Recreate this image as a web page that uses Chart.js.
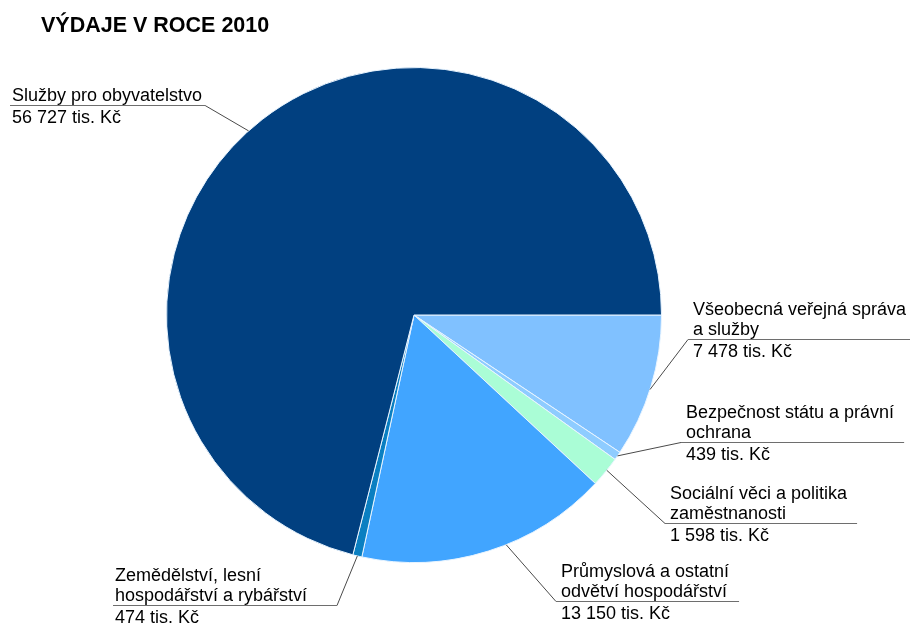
<!DOCTYPE html>
<html lang="cs">
<head>
<meta charset="utf-8">
<title>Výdaje v roce 2010</title>
<script src="https://cdn.jsdelivr.net/npm/chart.js@4.4.1/dist/chart.umd.min.js"></script>
<style>
  html, body { margin: 0; padding: 0; background: #ffffff; }
  #wrap { position: relative; width: 910px; height: 623px; }
  canvas { display: block; }
</style>
</head>
<body>
<div id="wrap"><canvas id="chart" width="910" height="623"></canvas></div>
<script>
// Expenditure groups, clockwise from 3 o'clock (values in thousands CZK)
const categories = [
  'Všeobecná veřejná správa\na služby',
  'Bezpečnost státu a právní\nochrana',
  'Sociální věci a politika\nzaměstnanosti',
  'Průmyslová a ostatní\nodvětví hospodářství',
  'Zemědělství, lesní\nhospodářství a rybářství',
  'Služby pro obyvatelstvo'
];
const values = [7478, 439, 1598, 13150, 474, 56727];
const unit = 'tis. Kč';
const title = 'VÝDAJE V ROCE 2010';

// Slice colours
const colors = ['#80C1FF', '#8ECCFF', '#AAFDD6', '#41A5FF', '#0A7FC1', '#014080'];

// Label placement: text left x, first baseline, side of the elbow,
// anchor fraction along the arc, optional label box width
const labelLayout = [
  { x: 693, y: 315, side: 'right', at: 0.52 },
  { x: 686, y: 418, side: 'right', at: 0.5 },
  { x: 670, y: 499, side: 'right', at: 0.44 },
  { x: 561, y: 577, side: 'right', at: 0.426 },
  { x: 115, y: 581, side: 'left',  at: 0.5, box: 224 },
  { x: 12,  y: 101, side: 'left',  at: 0.484 }
];

const FONT = '18px "Liberation Sans", Arial, sans-serif';
const LINE = 20;

function fmt(v) {
  return String(v).replace(/\B(?=(\d{3})+(?!\d))/g, ' ') + ' ' + unit;
}

const calloutPlugin = {
  id: 'callouts',
  afterDraw(chart) {
    const ctx = chart.ctx;
    const arcs = chart.getDatasetMeta(0).data;
    ctx.save();

    // Title
    ctx.fillStyle = '#000';
    ctx.font = 'bold 21.5px "Liberation Sans", Arial, sans-serif';
    ctx.textBaseline = 'alphabetic';
    ctx.textAlign = 'left';
    ctx.fillText(title, 41, 31.5);

    ctx.font = FONT;
    arcs.forEach((arc, i) => {
      const p = arc.getProps(['x', 'y', 'startAngle', 'endAngle', 'outerRadius'], true);
      const L = labelLayout[i];
      const ang = p.startAngle + (p.endAngle - p.startAngle) * L.at;
      const ax = p.x + Math.cos(ang) * p.outerRadius;
      const ay = p.y + Math.sin(ang) * p.outerRadius;

      const lines = chart.data.labels[i].split('\n');
      const valueText = fmt(chart.data.datasets[0].data[i]);
      let maxW = 0;
      lines.forEach(t => { maxW = Math.max(maxW, ctx.measureText(t).width); });

      const lastBase = L.y + (lines.length - 1) * LINE;
      const uy = Math.round(lastBase + 4) + 0.5;
      let ux0, ux1, ex;
      if (L.side === 'right') {
        ux0 = L.x - 5; ux1 = L.x + maxW + 10; ex = ux0;
      } else {
        ux0 = L.x - 2; ux1 = L.box ? ux0 + L.box : L.x + maxW + 3; ex = ux1;
      }

      // Leader line from slice edge to the elbow
      ctx.strokeStyle = '#4a4a4a';
      ctx.lineWidth = 1;
      ctx.beginPath();
      ctx.moveTo(ax, ay);
      ctx.lineTo(ex, uy);
      ctx.stroke();

      // Underline separating name and value
      ctx.strokeStyle = '#6e6e6e';
      ctx.beginPath();
      ctx.moveTo(ux0, uy);
      ctx.lineTo(ux1, uy);
      ctx.stroke();

      // Text
      ctx.fillStyle = '#000';
      lines.forEach((t, k) => ctx.fillText(t, L.x, L.y + k * LINE));
      ctx.fillText(valueText, L.x, uy + 17.5);
    });
    ctx.restore();
  }
};

new Chart(document.getElementById('chart'), {
  type: 'pie',
  data: {
    labels: categories,
    datasets: [{
      data: values,
      backgroundColor: colors,
      borderColor: '#e8f4ff',
      borderWidth: 1
    }]
  },
  options: {
    responsive: false,
    animation: false,
    events: [],
    rotation: 90,
    layout: { padding: { left: 166, right: 248, top: 67, bottom: 60 } },
    plugins: {
      legend: { display: false },
      tooltip: { enabled: false },
      title: { display: false }
    }
  },
  plugins: [calloutPlugin]
});
</script>
</body>
</html>
